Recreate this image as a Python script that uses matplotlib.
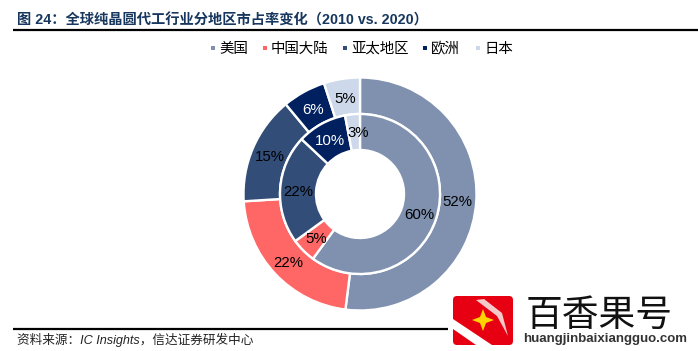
import matplotlib
matplotlib.use('Agg')
import matplotlib.pyplot as plt
from matplotlib.patches import FancyBboxPatch, Polygon, Rectangle

regions = ['美国', '中国大陆', '亚太地区', '欧洲', '日本']
share_2010 = [52, 22, 15, 6, 5]
share_2020 = [60, 5, 22, 10, 3]
colors = ['#7F91AF', '#FF6666', '#314D78', '#002060', '#CDD9EA']
label_colors = ['black', 'black', 'black', 'white', 'black']

title = '图 24：全球纯晶圆代工行业分地区市占率变化（2010 vs. 2020）'
source = '资料来源：IC Insights，信达证券研发中心'

plt.rcParams['font.family'] = ['Liberation Sans', 'Noto Sans CJK SC', 'DejaVu Sans']

W, H = 698, 351
fig = plt.figure(figsize=(W / 100, H / 100), dpi=100)

# overlay in pixel coordinates for the page furniture
page = fig.add_axes([0, 0, 1, 1])
page.set_xlim(0, W)
page.set_ylim(H, 0)
page.axis('off')

page.text(17, 20, title, fontsize=10.25, fontweight='bold', color='#17375E', va='center', ha='left')
page.plot([13, W], [30, 30], color='black', lw=1.6, solid_capstyle='butt')
page.plot([13, 448], [329, 329], color='black', lw=1.6, solid_capstyle='butt')
page.text(17, 340, source, fontsize=9.1, style='italic', color='#222222', va='center', ha='left')

# legend
marker_x = [211, 263, 343, 423, 476]
text_x = [219, 271, 351, 431, 484]
for name, c, mx, tx in zip(regions, colors, marker_x, text_x):
    page.add_patch(Rectangle((mx, 46), 4, 4, color=c, lw=0))
    page.text(tx, 48.5, name, fontsize=10.4, color='black', va='center', ha='left')

# doughnut, one data unit is one pixel
cx, cy, box = 360, 194, 120
ax = fig.add_axes([(cx - box) / W, (H - cy - box) / H, 2 * box / W, 2 * box / H])
outer_r, mid_r, hole_r = 116.5, 80, 44
for vals, r, pct in [(share_2010, outer_r, 98), (share_2020, mid_r, 62)]:
    wedges, _, autotexts = ax.pie(
        vals, radius=r, colors=colors, startangle=90, counterclock=False,
        autopct=lambda v: f'{v:.0f}%', pctdistance=pct / r,
        wedgeprops=dict(width=r - (mid_r if r == outer_r else hole_r), edgecolor='white', linewidth=1.7),
        textprops=dict(fontsize=10.8),
    )
    for t, c in zip(autotexts, label_colors):
        t.set_color(c)
        x, y = t.get_position()
        t.set_position((x, y - 1.5))
    if r == mid_r:
        # the small 3% label sits nearer the top of the slice in the original
        x, y = autotexts[-1].get_position()
        autotexts[-1].set_position((x + 4, y + 1))
ax.set_xlim(-box, box)
ax.set_ylim(-box, box)

# watermark logo
page.add_patch(FancyBboxPatch((456, 299), 54, 43, boxstyle='round,pad=3,rounding_size=4', fc='#E60012', ec='none', zorder=5))
page.add_patch(Polygon([(453, 319), (453, 329), (476, 345), (492, 345)], fc='white', ec='none', zorder=6))
page.add_patch(Polygon([(476, 300), (484, 299), (502, 313), (508, 336), (497, 316)], fc='#F6C9C9', ec='none', zorder=6))
page.add_patch(Polygon([(483, 309), (486, 317), (494, 320), (486, 323), (483, 331), (480, 323), (472, 320), (480, 317)],
                       fc='#FFD400', ec='none', zorder=6))
page.text(599, 316, '百香果号', fontsize=26.5, color='#111111', va='center', ha='center', zorder=6)
page.text(605, 339, 'huangjinbaixiangguo.com', fontsize=9.5, fontweight='bold', color='#333333', va='center', ha='center', zorder=6)

fig.savefig('out.png', dpi=100)
